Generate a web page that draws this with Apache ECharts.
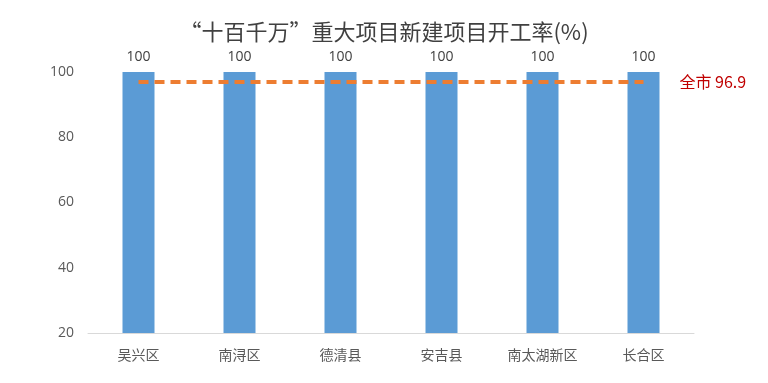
<!DOCTYPE html>
<html><head><meta charset="utf-8">
<script src="https://cdn.jsdelivr.net/npm/echarts@6/dist/echarts.min.js"></script>
<style>html,body{margin:0;padding:0;background:#fff}#c{width:768px;height:383px}</style>
</head><body><div id="c"></div>
<script>
const titleText = '“十百千万”重大项目新建项目开工率(%)';
const categories = ['吴兴区','南浔区','德清县','安吉县','南太湖新区','长合区'];
const rates = [100,100,100,100,100,100];
const cityAvg = 96.9;
const cityLabel = '全市';
const yTicks = {min:20, max:100, interval:20};

const chart = echarts.init(document.getElementById('c'));
chart.setOption({
  animation:false,
  title:{text:titleText,left:'center',top:16,textStyle:{fontFamily:'Noto Sans CJK SC',fontSize:22,fontWeight:'normal',color:'#404040'}},
  grid:{left:88,right:74,top:72,bottom:50},
  xAxis:{type:'category',data:categories,axisTick:{show:false},
    axisLine:{lineStyle:{color:'#D9D9D9',width:1}},
    axisLabel:{color:'#595959',fontSize:14,fontFamily:'Noto Sans CJK SC',margin:15}},
  yAxis:{type:'value',min:yTicks.min,max:yTicks.max,interval:yTicks.interval,
    splitLine:{show:false},axisLine:{show:false},axisTick:{show:false},
    axisLabel:{color:'#595959',fontSize:14,fontFamily:'Open Sans',margin:14}},
  series:[
    {type:'bar',data:rates,barWidth:32,itemStyle:{color:'#5B9BD5'},
     label:{show:true,position:'top',color:'#404040',fontSize:14,fontFamily:'Open Sans',distance:8}},
    {type:'line',data:categories.map(()=>cityAvg),symbol:'none',z:5,
     lineStyle:{color:'#ED7D31',width:4,type:[10,6]},
     endLabel:{show:true,formatter:cityLabel+' '+cityAvg,color:'#C00000',fontSize:16,fontFamily:'Noto Sans CJK SC',distance:36}}
  ]
});
</script></body></html>
